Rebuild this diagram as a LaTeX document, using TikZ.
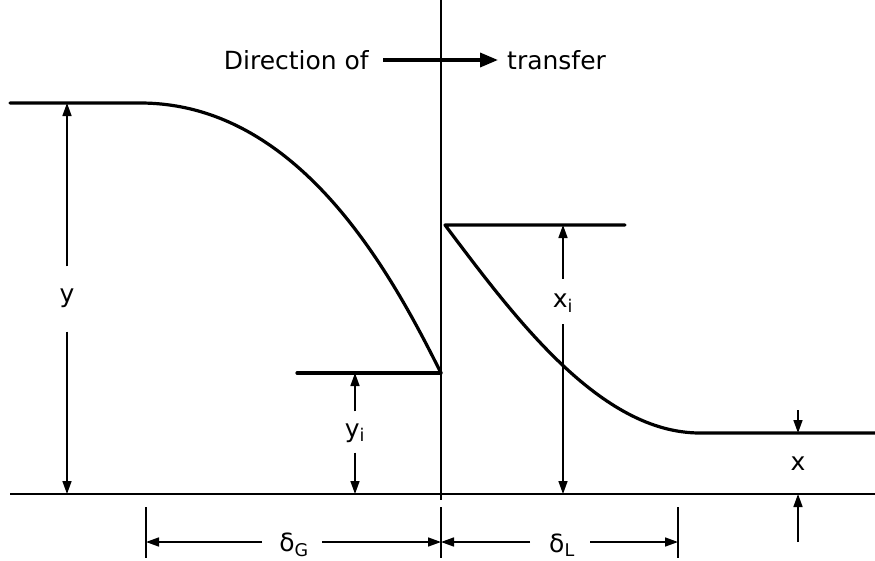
\documentclass[tikz,border=0pt]{standalone}
\usepackage{fontspec}
\setmainfont{DejaVu Sans}
\usetikzlibrary{arrows.meta}
\begin{document}
\begin{tikzpicture}[x=1pt,y=-1pt,
  curve/.style={line width=3.2pt,line cap=round,line join=round},
  base/.style={line width=2pt},
  dim/.style={line width=1.6pt,-{Triangle[length=13pt,width=9pt]}},
  tick/.style={line width=1.6pt},
  lbl/.style={inner sep=0pt,font=\fontsize{25}{29}\selectfont}]
\useasboundingbox (0,0) rectangle (875,560);
% key points
\coordinate (TL) at (10,103);
\coordinate (TLe) at (140,103);
\coordinate (YI) at (441,373);
\coordinate (YIl) at (297,373);
\coordinate (XI) at (445,225);
\coordinate (XIr) at (625,225);
\coordinate (XB) at (700,433);
\coordinate (XBr) at (875,433);
\coordinate (B0) at (10,494);
\coordinate (B1) at (875,494);
\coordinate (V0) at (441,0);
\coordinate (V1) at (441,500);
% interface line
\draw[line width=1.4pt] (V0) -- (V1);
% baseline
\draw[base] (B0) -- (B1);
% gas profile
\draw[curve] (TL) -- (TLe) .. controls (300,103) and (392,275) .. (YI);
\draw[curve] (YIl) -- (YI);
% liquid profile
\draw[curve] (XIr) -- (XI) .. controls (515,318) and (600,433) .. (XB) -- (XBr);
% direction text
\node[lbl,anchor=east] (dir) at (369,60) {Direction of};
\node[lbl,anchor=west] (trn) at (507,60) {transfer};
\coordinate (da) at (383,60);
\coordinate (db) at (498,60);
\draw[line width=3.6pt,-{Triangle[length=18pt,width=14pt]}] (da) -- (db);
% y dimension
\node[lbl] (ylab) at (67,298) {y};
\coordinate (ytop) at (67,103);
\coordinate (ybot) at (67,494);
\draw[dim] (ylab.north) ++(0,-22) coordinate (y1) -- (ytop);
\draw[dim] (ylab.south) ++(0,24) coordinate (y2) -- (ybot);
% yi dimension
\node[lbl] (yilab) at (355,433) {y\textsubscript{i}};
\coordinate (yitop) at (355,373);
\coordinate (yibot) at (355,494);
\draw[dim] (yilab.north) ++(0,-12) -- (yitop);
\draw[dim] (yilab.south) ++(0,10) -- (yibot);
% xi dimension
\node[lbl] (xilab) at (563,303) {x\textsubscript{i}};
\coordinate (xitop) at (563,225);
\coordinate (xibot) at (563,494);
\draw[dim] (xilab.north) ++(0,-15) -- (xitop);
\draw[dim] (xilab.south) ++(0,12) -- (xibot);
% x dimension
\node[lbl] (xlab) at (798,464) {x};
\coordinate (xa) at (798,410);
\coordinate (xb) at (798,433);
\coordinate (xc) at (798,542);
\coordinate (xd) at (798,494);
\draw[dim] (xa) -- (xb);
\draw[dim] (xc) -- (xd);
% delta ticks
\coordinate (t0a) at (146,507); \coordinate (t0b) at (146,558);
\coordinate (t1a) at (441,507); \coordinate (t1b) at (441,558);
\coordinate (t2a) at (678,507); \coordinate (t2b) at (678,558);
\draw[tick] (t0a) -- (t0b);
\draw[tick] (t1a) -- (t1b);
\draw[tick] (t2a) -- (t2b);
% delta G
\node[lbl] (dG) at (294,545) {δ\textsubscript{G}};
\coordinate (dG0) at (146,542);
\coordinate (dG1) at (441,542);
\draw[dim] (262,542) -- (dG0);
\draw[dim] (322,542) -- (dG1);
% delta L
\node[lbl] (dL) at (562,545) {δ\textsubscript{L}};
\coordinate (dL0) at (441,542);
\coordinate (dL1) at (678,542);
\draw[dim] (530,542) -- (dL0);
\draw[dim] (590,542) -- (dL1);
\end{tikzpicture}
\end{document}
